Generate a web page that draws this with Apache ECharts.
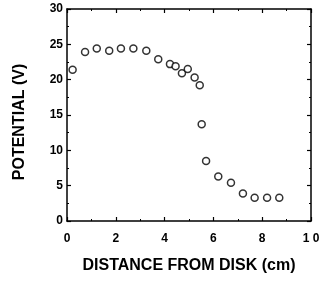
<!DOCTYPE html>
<html><head><meta charset="utf-8">
<script src="https://cdn.jsdelivr.net/npm/echarts@6/dist/echarts.min.js"></script>
<style>html,body{margin:0;padding:0;background:#fff}#c{width:327px;height:283px}</style>
</head><body><div id="c"></div>
<script>
var distance = [0.23,0.74,1.22,1.73,2.21,2.72,3.25,3.74,4.22,4.45,4.71,4.95,5.23,5.44,5.52,5.70,6.2,6.72,7.21,7.69,8.2,8.7];
var potential = [21.4,23.9,24.4,24.1,24.4,24.4,24.1,22.9,22.2,21.9,20.9,21.5,20.3,19.2,13.7,8.5,6.3,5.4,3.9,3.3,3.3,3.3];
var xTicks = [0,2,4,6,8,10];
var yTicks = [0,5,10,15,20,25,30];
var xTitle = 'DISTANCE FROM DISK (cm)';
var yTitle = 'POTENTIAL (V)';

var font = 'Liberation Sans, Arial, sans-serif';
var chart = echarts.init(document.getElementById('c'));
function axisBase(show){
  return {
    axisLine:{show:true,onZero:false,lineStyle:{color:'#000',width:1.5}},
    axisTick:{show:true,inside:true,length:4,lineStyle:{color:'#000',width:1.2}},
    minorTick:{show:true,splitNumber:2,length:2,lineStyle:{color:'#000',width:1}},
    splitLine:{show:false},
    axisLabel:{show:show,color:'#000',fontFamily:font,fontWeight:'bold',fontSize:12}
  };
}
var data = distance.map(function(d,i){return [d,potential[i]];});
chart.setOption({
  animation:false,
  grid:{left:67,right:16,top:9,bottom:62,containLabel:false},
  xAxis:[
    Object.assign(axisBase(true),{type:'value',min:0,max:10,interval:2,position:'bottom',
      name:xTitle,nameLocation:'middle',nameGap:37,
      nameTextStyle:{color:'#000',fontFamily:font,fontWeight:'bold',fontSize:16},
      axisLabel:{show:true,color:'#000',fontFamily:font,fontWeight:'bold',fontSize:12,margin:12,
        formatter:function(v){return xTicks.indexOf(v)>=0?(v===10?'1 0':String(v)):'';}}}),
    Object.assign(axisBase(false),{type:'value',min:0,max:10,interval:2,position:'top'})
  ],
  yAxis:[
    Object.assign(axisBase(true),{type:'value',min:0,max:30,interval:5,position:'left',
      name:yTitle,nameLocation:'middle',nameGap:39,
      nameTextStyle:{color:'#000',fontFamily:font,fontWeight:'bold',fontSize:16,padding:[0,14,0,0]},
      axisLabel:{show:true,color:'#000',fontFamily:font,fontWeight:'bold',fontSize:12,margin:4,
        formatter:function(v){return yTicks.indexOf(v)>=0?String(v):'';}}}),
    Object.assign(axisBase(false),{type:'value',min:0,max:30,interval:5,position:'right'})
  ],
  series:[{
    type:'scatter',xAxisIndex:0,yAxisIndex:0,data:data,
    symbol:'circle',symbolSize:7,
    itemStyle:{color:'#fff',borderColor:'#000',borderWidth:1.5}
  }]
});
</script></body></html>
